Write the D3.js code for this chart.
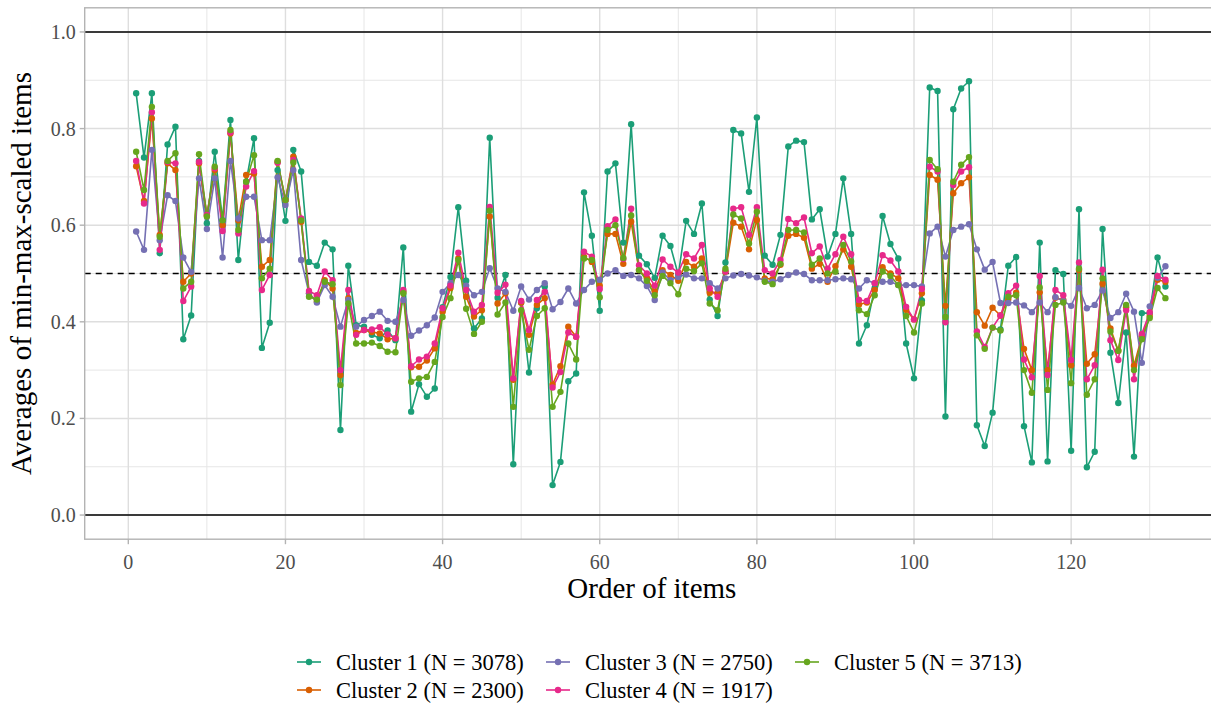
<!DOCTYPE html>
<html>
<head>
<meta charset="utf-8">
<script src="https://cdn.jsdelivr.net/npm/d3@7"></script>
<style>
  html, body { margin: 0; padding: 0; background: #ffffff; }
  svg { display: block; }
  text { font-family: "Liberation Serif", "DejaVu Serif", serif; }
</style>
</head>
<body>
<svg id="chart" width="1211" height="705"></svg>
<script>
// Item averages per cluster (items 1..132)
const cluster1 = [0.873,0.740,0.873,0.542,0.767,0.804,0.364,0.413,0.733,0.604,0.752,0.610,0.818,0.528,0.690,0.780,0.346,0.398,0.714,0.609,0.756,0.711,0.524,0.516,0.564,0.550,0.176,0.516,0.393,0.390,0.373,0.366,0.382,0.362,0.554,0.214,0.271,0.245,0.262,0.430,0.493,0.637,0.485,0.386,0.407,0.781,0.450,0.497,0.105,0.440,0.295,0.428,0.473,0.062,0.110,0.277,0.293,0.668,0.578,0.423,0.711,0.728,0.564,0.809,0.537,0.519,0.491,0.578,0.557,0.497,0.609,0.582,0.645,0.446,0.412,0.523,0.797,0.790,0.669,0.823,0.537,0.518,0.580,0.763,0.775,0.772,0.612,0.633,0.535,0.582,0.697,0.582,0.355,0.393,0.470,0.619,0.561,0.531,0.355,0.283,0.444,0.885,0.878,0.204,0.840,0.883,0.898,0.186,0.143,0.212,0.384,0.516,0.534,0.184,0.109,0.564,0.111,0.507,0.499,0.133,0.633,0.099,0.131,0.592,0.336,0.232,0.378,0.121,0.418,0.418,0.533,0.473];
const cluster2 = [0.722,0.650,0.821,0.580,0.728,0.714,0.483,0.500,0.728,0.620,0.714,0.600,0.790,0.610,0.704,0.707,0.514,0.528,0.731,0.652,0.742,0.607,0.459,0.442,0.486,0.469,0.290,0.449,0.377,0.383,0.379,0.376,0.364,0.366,0.462,0.306,0.307,0.320,0.345,0.421,0.470,0.531,0.452,0.411,0.424,0.618,0.438,0.459,0.280,0.440,0.373,0.435,0.449,0.270,0.308,0.390,0.369,0.535,0.524,0.475,0.582,0.582,0.520,0.607,0.507,0.490,0.463,0.507,0.497,0.485,0.524,0.514,0.531,0.460,0.460,0.504,0.605,0.597,0.550,0.611,0.490,0.488,0.518,0.578,0.582,0.574,0.510,0.520,0.483,0.515,0.550,0.514,0.436,0.440,0.466,0.513,0.500,0.490,0.425,0.405,0.459,0.704,0.694,0.433,0.666,0.687,0.699,0.420,0.392,0.429,0.413,0.447,0.460,0.344,0.300,0.461,0.300,0.450,0.445,0.310,0.507,0.313,0.333,0.479,0.386,0.340,0.430,0.309,0.370,0.412,0.487,0.483];
const cluster3 = [0.587,0.549,0.756,0.569,0.662,0.650,0.533,0.503,0.697,0.592,0.697,0.533,0.733,0.614,0.659,0.659,0.569,0.569,0.699,0.642,0.714,0.528,0.459,0.440,0.476,0.452,0.390,0.445,0.390,0.404,0.412,0.421,0.402,0.400,0.445,0.371,0.382,0.393,0.409,0.462,0.480,0.497,0.475,0.455,0.462,0.511,0.469,0.462,0.423,0.473,0.446,0.466,0.480,0.426,0.441,0.469,0.438,0.466,0.483,0.487,0.500,0.507,0.495,0.497,0.490,0.474,0.445,0.502,0.486,0.493,0.498,0.490,0.490,0.480,0.469,0.490,0.496,0.499,0.496,0.492,0.485,0.483,0.488,0.497,0.502,0.499,0.486,0.486,0.486,0.488,0.490,0.488,0.469,0.486,0.480,0.483,0.483,0.476,0.476,0.476,0.473,0.583,0.597,0.535,0.590,0.597,0.602,0.550,0.508,0.524,0.439,0.439,0.440,0.434,0.420,0.440,0.420,0.451,0.443,0.433,0.470,0.428,0.435,0.465,0.408,0.420,0.458,0.421,0.315,0.432,0.491,0.515];
const cluster4 = [0.733,0.645,0.834,0.549,0.731,0.728,0.443,0.473,0.731,0.621,0.718,0.588,0.792,0.583,0.680,0.712,0.466,0.497,0.729,0.652,0.735,0.614,0.464,0.455,0.504,0.486,0.300,0.466,0.373,0.383,0.384,0.389,0.374,0.366,0.466,0.308,0.322,0.328,0.355,0.428,0.475,0.543,0.466,0.421,0.435,0.638,0.460,0.477,0.283,0.443,0.383,0.445,0.462,0.264,0.296,0.378,0.369,0.545,0.535,0.468,0.598,0.612,0.530,0.634,0.517,0.500,0.475,0.529,0.514,0.502,0.540,0.531,0.559,0.469,0.452,0.504,0.634,0.637,0.580,0.637,0.507,0.500,0.528,0.613,0.604,0.616,0.542,0.556,0.510,0.540,0.576,0.540,0.445,0.443,0.480,0.538,0.527,0.504,0.431,0.405,0.468,0.721,0.711,0.399,0.683,0.711,0.720,0.380,0.348,0.388,0.413,0.459,0.475,0.322,0.285,0.495,0.290,0.466,0.455,0.321,0.523,0.281,0.310,0.508,0.362,0.321,0.424,0.281,0.375,0.420,0.495,0.487];
const cluster5 = [0.752,0.673,0.845,0.576,0.733,0.749,0.469,0.483,0.747,0.618,0.721,0.610,0.797,0.590,0.690,0.745,0.490,0.510,0.733,0.652,0.730,0.610,0.452,0.446,0.483,0.478,0.269,0.438,0.355,0.355,0.357,0.350,0.338,0.337,0.459,0.276,0.283,0.286,0.317,0.410,0.449,0.528,0.427,0.375,0.400,0.630,0.415,0.440,0.224,0.424,0.342,0.412,0.428,0.224,0.255,0.355,0.322,0.531,0.528,0.451,0.590,0.600,0.532,0.620,0.507,0.485,0.455,0.495,0.480,0.457,0.510,0.505,0.521,0.438,0.424,0.510,0.622,0.614,0.562,0.628,0.483,0.478,0.520,0.590,0.590,0.585,0.518,0.531,0.500,0.504,0.559,0.525,0.424,0.416,0.455,0.504,0.495,0.476,0.412,0.378,0.438,0.735,0.716,0.410,0.690,0.725,0.741,0.372,0.344,0.388,0.382,0.452,0.455,0.300,0.253,0.471,0.259,0.435,0.440,0.273,0.510,0.249,0.281,0.490,0.380,0.340,0.435,0.300,0.364,0.408,0.470,0.449];

const seriesNames = ["Cluster 1 (N = 3078)", "Cluster 2 (N = 2300)", "Cluster 3 (N = 2750)", "Cluster 4 (N = 1917)", "Cluster 5 (N = 3713)"];
const seriesColors = ["#1B9E77", "#D95F02", "#7570B3", "#E7298A", "#66A61E"];
const seriesValues = [cluster1, cluster2, cluster3, cluster4, cluster5];

const xTicks = [0, 20, 40, 60, 80, 100, 120];
const xMinor = [10, 30, 50, 70, 90, 110, 130];
const yTicks = [0.0, 0.2, 0.4, 0.6, 0.8, 1.0];
const yMinor = [0.1, 0.3, 0.5, 0.7, 0.9];
const refSolid = [0, 1];
const refDashed = [0.5];

const svg = d3.select("#chart");
const nItems = cluster1.length;
const padX = (nItems - 1) * 0.05;

const x = d3.scaleLinear()
  .domain([1 - padX, nItems + padX])
  .range([84.7, 84.7 + (nItems - 1 + 2 * padX) * 7.857]);
const y = d3.scaleLinear()
  .domain([-0.05, 1.05])
  .range([539.2, 7.8]);

const pLeft = x.range()[0], pRight = x.range()[1];
const pTop = y.range()[1], pBottom = y.range()[0];

const panel = svg.append("g");
panel.append("rect")
  .attr("x", pLeft).attr("y", pTop)
  .attr("width", pRight - pLeft).attr("height", pBottom - pTop)
  .attr("fill", "#ffffff");

// grid
panel.selectAll(".gy-minor").data(yMinor).enter().append("line")
  .attr("x1", pLeft).attr("x2", pRight)
  .attr("y1", d => y(d)).attr("y2", d => y(d))
  .attr("stroke", "#E6E6E6").attr("stroke-width", 1);
panel.selectAll(".gx-minor").data(xMinor).enter().append("line")
  .attr("y1", pTop).attr("y2", pBottom)
  .attr("x1", d => x(d)).attr("x2", d => x(d))
  .attr("stroke", "#E6E6E6").attr("stroke-width", 1);
panel.selectAll(".gy").data(yTicks).enter().append("line")
  .attr("x1", pLeft).attr("x2", pRight)
  .attr("y1", d => y(d)).attr("y2", d => y(d))
  .attr("stroke", "#DEDEDE").attr("stroke-width", 1.4);
panel.selectAll(".gx").data(xTicks).enter().append("line")
  .attr("y1", pTop).attr("y2", pBottom)
  .attr("x1", d => x(d)).attr("x2", d => x(d))
  .attr("stroke", "#DEDEDE").attr("stroke-width", 1.4);

// reference lines
panel.selectAll(".ref").data(refSolid).enter().append("line")
  .attr("x1", pLeft).attr("x2", pRight)
  .attr("y1", d => y(d)).attr("y2", d => y(d))
  .attr("stroke", "#000000").attr("stroke-width", 1.6);
panel.selectAll(".refd").data(refDashed).enter().append("line")
  .attr("x1", pLeft).attr("x2", pRight)
  .attr("y1", d => y(d)).attr("y2", d => y(d))
  .attr("stroke", "#000000").attr("stroke-width", 1.6)
  .attr("stroke-dasharray", "6,5");

// series
const line = d3.line()
  .x((d, i) => x(i + 1))
  .y(d => y(d));
seriesValues.forEach((vals, k) => {
  panel.append("path")
    .datum(vals)
    .attr("d", line)
    .attr("fill", "none")
    .attr("stroke", seriesColors[k])
    .attr("stroke-width", 1.6)
    .attr("stroke-linejoin", "round");
});
seriesValues.forEach((vals, k) => {
  panel.append("g").selectAll("circle").data(vals).enter().append("circle")
    .attr("cx", (d, i) => x(i + 1))
    .attr("cy", d => y(d))
    .attr("r", 3.2)
    .attr("fill", seriesColors[k]);
});

// panel border
panel.append("rect")
  .attr("x", pLeft).attr("y", pTop)
  .attr("width", pRight - pLeft).attr("height", pBottom - pTop)
  .attr("fill", "none").attr("stroke", "#B3B3B3").attr("stroke-width", 1.4);

// axes
const xAxis = svg.append("g");
xAxis.selectAll("line").data(xTicks).enter().append("line")
  .attr("x1", d => x(d)).attr("x2", d => x(d))
  .attr("y1", pBottom).attr("y2", pBottom + 5)
  .attr("stroke", "#B3B3B3").attr("stroke-width", 1.4);
xAxis.selectAll("text").data(xTicks).enter().append("text")
  .attr("x", d => x(d)).attr("y", pBottom + 30)
  .attr("text-anchor", "middle")
  .attr("fill", "#4D4D4D").attr("font-size", 20)
  .text(d => d);

const yAxis = svg.append("g");
yAxis.selectAll("line").data(yTicks).enter().append("line")
  .attr("x1", pLeft - 5).attr("x2", pLeft)
  .attr("y1", d => y(d)).attr("y2", d => y(d))
  .attr("stroke", "#B3B3B3").attr("stroke-width", 1.4);
yAxis.selectAll("text").data(yTicks).enter().append("text")
  .attr("x", pLeft - 9).attr("y", d => y(d))
  .attr("dy", "0.35em")
  .attr("text-anchor", "end")
  .attr("fill", "#4D4D4D").attr("font-size", 20)
  .text(d => d3.format(".1f")(d));

// titles
svg.append("text")
  .attr("x", (pLeft + 1211) / 2 + 4).attr("y", 598)
  .attr("text-anchor", "middle")
  .attr("font-size", 29).attr("fill", "#000000")
  .text("Order of items");
svg.append("text")
  .attr("transform", `translate(31, ${(pTop + pBottom) / 2}) rotate(-90)`)
  .attr("text-anchor", "middle")
  .attr("font-size", 29).attr("fill", "#000000")
  .text("Averages of min-max-scaled items");

// legend
const legendPos = [
  { col: 0, row: 0 }, { col: 0, row: 1 },
  { col: 1, row: 0 }, { col: 1, row: 1 },
  { col: 2, row: 0 }
];
const colX = [297, 546, 795];
const rowY = [662, 690];
const legend = svg.append("g");
seriesNames.forEach((name, k) => {
  const p = legendPos[k];
  const gx = colX[p.col], gy = rowY[p.row];
  const g = legend.append("g").attr("transform", `translate(${gx},${gy})`);
  g.append("line").attr("x1", 0).attr("x2", 24).attr("y1", 0).attr("y2", 0)
    .attr("stroke", seriesColors[k]).attr("stroke-width", 1.6);
  g.append("circle").attr("cx", 12).attr("cy", 0).attr("r", 3.2).attr("fill", seriesColors[k]);
  g.append("text").attr("x", 39).attr("y", 0).attr("dy", "0.35em")
    .attr("font-size", 22.5).attr("fill", "#000000").text(name);
});
</script>
</body>
</html>
